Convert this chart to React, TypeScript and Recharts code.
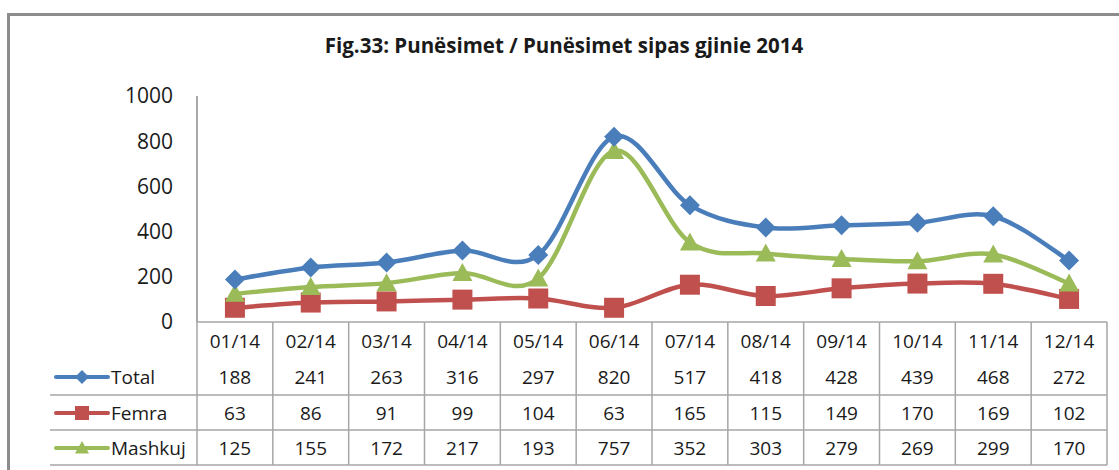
import React from "react";
import { LineChart, Line, XAxis, YAxis } from "recharts";

const months = ["01/14", "02/14", "03/14", "04/14", "05/14", "06/14", "07/14", "08/14", "09/14", "10/14", "11/14", "12/14"];
const total = [188, 241, 263, 316, 297, 820, 517, 418, 428, 439, 468, 272];
const femra = [63, 86, 91, 99, 104, 63, 165, 115, 149, 170, 169, 102];
const mashkuj = [125, 155, 172, 217, 193, 757, 352, 303, 279, 269, 299, 170];
const yTicks = [0, 200, 400, 600, 800, 1000];

const data = months.map((m, i) => ({ month: m, total: total[i], femra: femra[i], mashkuj: mashkuj[i] }));

const W = 1119;
const H = 470;
const LEFT = 197;
const RIGHT = 12;
const COL_W = (W - LEFT - RIGHT) / months.length;

const BLUE = "#4A7EBB";
const RED = "#C0504D";
const GREEN = "#9BBB59";
const GRID = "#a6a6a6";
const FONT = "'Open Sans', 'Liberation Sans', sans-serif";

// Excel-style smoothed line (Catmull-Rom through the points)
const excelCurve = (ctx: any) => {
  let pts: number[][] = [];
  return {
    areaStart() {},
    areaEnd() {},
    lineStart() {
      pts = [];
    },
    point(x: number, y: number) {
      pts.push([+x, +y]);
    },
    lineEnd() {
      if (!pts.length) return;
      ctx.moveTo(pts[0][0], pts[0][1]);
      for (let i = 0; i < pts.length - 1; i++) {
        const p0 = pts[i - 1] || pts[i];
        const p1 = pts[i];
        const p2 = pts[i + 1];
        const p3 = pts[i + 2] || p2;
        ctx.bezierCurveTo(
          p1[0] + (p2[0] - p0[0]) / 6,
          p1[1] + (p2[1] - p0[1]) / 6,
          p2[0] - (p3[0] - p1[0]) / 6,
          p2[1] - (p3[1] - p1[1]) / 6,
          p2[0],
          p2[1]
        );
      }
    },
  };
};

const diamond = (cx: number, cy: number, r: number) =>
  `M${cx},${cy - r}L${cx + r},${cy}L${cx},${cy + r}L${cx - r},${cy}Z`;
const square = (cx: number, cy: number, r: number) =>
  `M${cx - r},${cy - r}H${cx + r}V${cy + r}H${cx - r}Z`;
const triangle = (cx: number, cy: number, r: number) =>
  `M${cx},${cy - r}L${cx + r},${cy + r * 0.8}L${cx - r},${cy + r * 0.8}Z`;

const makeDot = (shape: (cx: number, cy: number, r: number) => string, r: number, color: string) =>
  (props: any) => (
    <path key={`dot-${props.index}`} d={shape(props.cx, props.cy, r)} fill={color} />
  );

const rows = [
  { label: "Total", values: total, color: BLUE, shape: diamond, r: 7 },
  { label: "Femra", values: femra, color: RED, shape: square, r: 7 },
  { label: "Mashkuj", values: mashkuj, color: GREEN, shape: triangle, r: 7 },
];
const rowBase = [62, 98, 133];
const rowLines = [73, 108, 143];

function TableTick(props: any) {
  const { x, y, payload } = props;
  const i = payload.index;
  const l = x - COL_W / 2;
  const r = x + COL_W / 2;
  const txt = { fontFamily: FONT, fontSize: 19, fill: "#1a1a1a", textAnchor: "middle" as const };
  return (
    <g>
      <line x1={l} x2={r} y1={y} y2={y} stroke={GRID} strokeWidth={1.5} />
      {rowLines.map((dy) => (
        <line key={dy} x1={l} x2={r} y1={y + dy} y2={y + dy} stroke={GRID} strokeWidth={1.5} />
      ))}
      <line x1={l} x2={l} y1={y} y2={y + 143} stroke={GRID} strokeWidth={1.5} />
      {i === months.length - 1 && (
        <line x1={r} x2={r} y1={y} y2={y + 143} stroke={GRID} strokeWidth={1.5} />
      )}
      <text x={x} y={y + 26} {...txt}>{payload.value}</text>
      {rows.map((row, k) => (
        <text key={row.label} x={x} y={y + rowBase[k]} {...txt}>
          {row.values[i]}
        </text>
      ))}
      {i === 0 && (
        <g>
          {rowLines.map((dy) => (
            <line key={dy} x1={50} x2={l} y1={y + dy} y2={y + dy} stroke={GRID} strokeWidth={1.5} />
          ))}
          {rows.map((row, k) => {
            const cy = y + rowBase[k] - 7;
            return (
              <g key={row.label}>
                <line x1={56} x2={108} y1={cy} y2={cy} stroke={row.color} strokeWidth={4} strokeLinecap="round" />
                <path d={row.shape(82, cy, row.r)} fill={row.color} />
                <text x={111} y={y + rowBase[k]} fontFamily={FONT} fontSize={19} fill="#1a1a1a">
                  {row.label}
                </text>
              </g>
            );
          })}
        </g>
      )}
    </g>
  );
}

export default function App() {
  return (
    <div style={{ position: "absolute", left: 0, top: 0, width: W, height: H, background: "#fff", overflow: "hidden" }}>
      <div
        style={{
          position: "absolute",
          left: 7,
          top: 13,
          width: 2000,
          height: 2000,
          borderTop: "3px solid #8c8c8c",
          borderLeft: "3px solid #8c8c8c",
        }}
      />
      <div
        style={{
          position: "absolute",
          left: 0,
          width: 1128,
          top: 31,
          textAlign: "center",
          fontFamily: FONT,
          fontWeight: 700,
          fontSize: 20.5,
          color: "#1a1a1a",
        }}
      >
        Fig.33: Punësimet / Punësimet sipas gjinie 2014
      </div>
      <div style={{ position: "absolute", left: 0, top: 0 }}>
        <LineChart width={W} height={H} data={data} margin={{ top: 96, right: RIGHT, left: 0, bottom: 0 }}>
          <XAxis
            dataKey="month"
            height={148}
            axisLine={false}
            tickLine={false}
            tickSize={0}
            tickMargin={0}
            interval={0}
            padding={{ left: COL_W / 2, right: COL_W / 2 }}
            tick={<TableTick />}
          />
          <YAxis
            width={LEFT}
            domain={[0, 1000]}
            ticks={yTicks}
            axisLine={{ stroke: "#8c8c8c", strokeWidth: 1.5 }}
            tickLine={false}
            tickSize={0}
            tickMargin={24}
            tick={{ fontFamily: FONT, fontSize: 21, fill: "#1a1a1a" }}
          />
          <Line
            dataKey="femra"
            type={excelCurve as any}
            stroke={RED}
            strokeWidth={4.5}
            dot={makeDot(square, 10, RED)}
            activeDot={false}
            isAnimationActive={false}
          />
          <Line
            dataKey="mashkuj"
            type={excelCurve as any}
            stroke={GREEN}
            strokeWidth={4.5}
            dot={makeDot(triangle, 10, GREEN)}
            activeDot={false}
            isAnimationActive={false}
          />
          <Line
            dataKey="total"
            type={excelCurve as any}
            stroke={BLUE}
            strokeWidth={4.5}
            dot={makeDot(diamond, 10, BLUE)}
            activeDot={false}
            isAnimationActive={false}
          />
        </LineChart>
      </div>
    </div>
  );
}
